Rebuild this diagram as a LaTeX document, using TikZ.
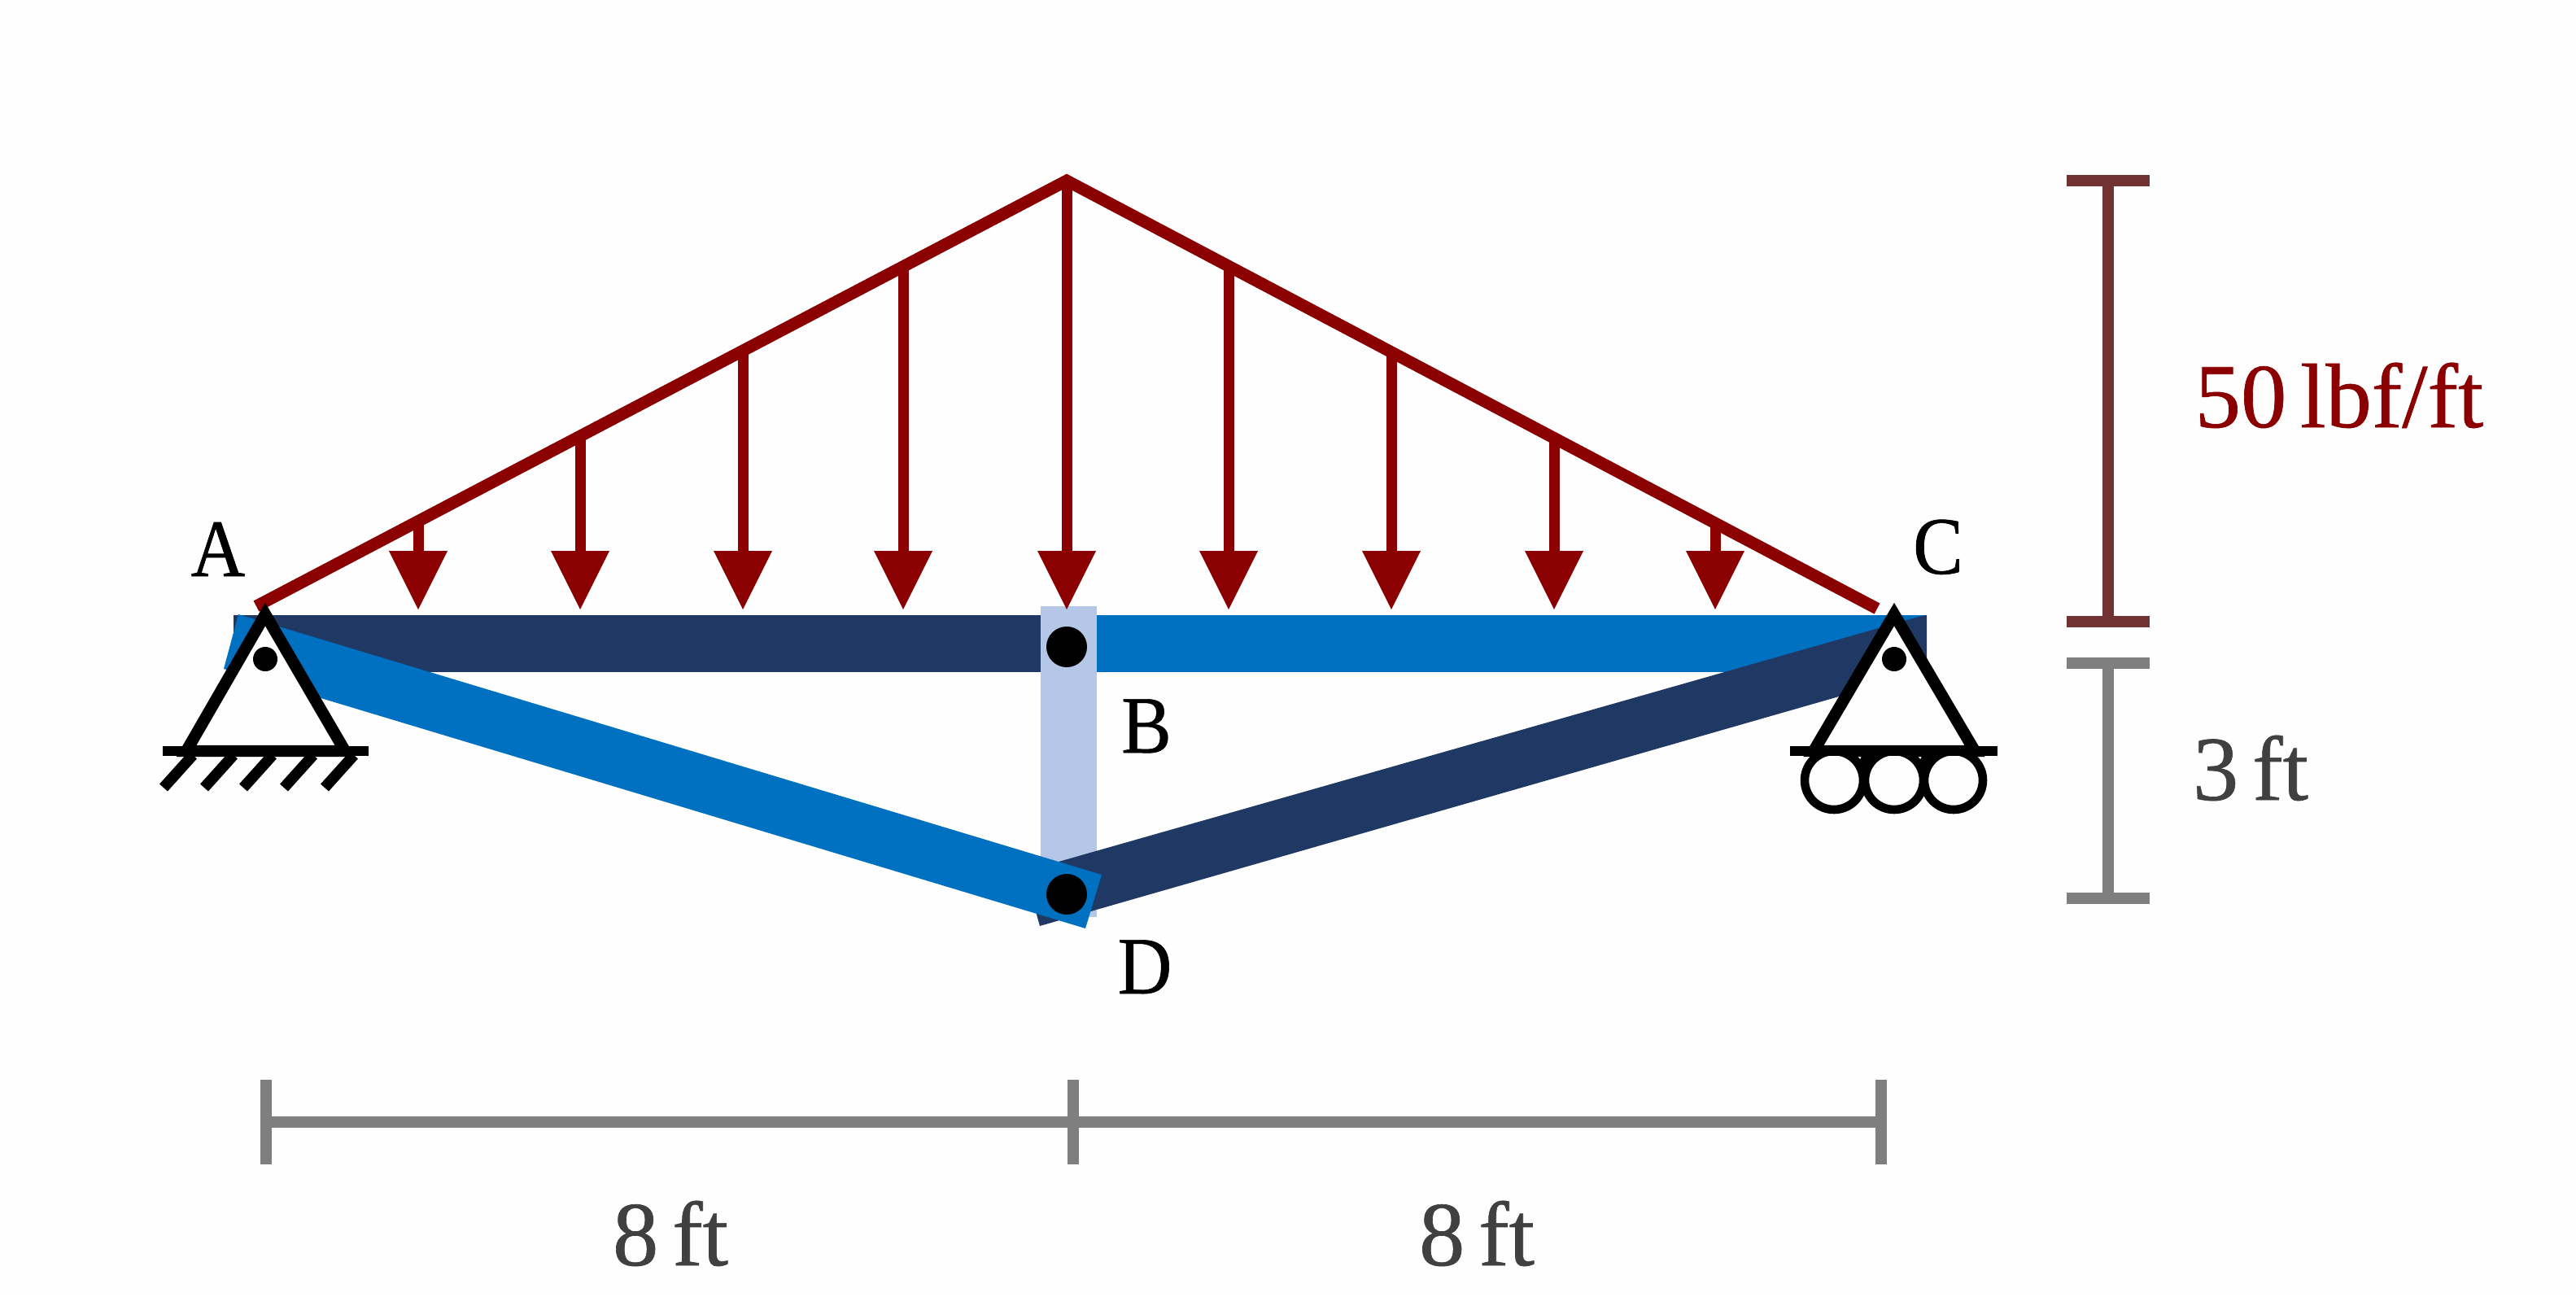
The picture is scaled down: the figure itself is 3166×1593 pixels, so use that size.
\documentclass[tikz,border=0pt]{standalone}
\usepackage{fontspec}
\setmainfont{Liberation Serif}[WordSpace=0.6,AutoFakeBold=0.6]
\newfontfamily\labfont{Liberation Serif}[FakeStretch=0.92,AutoFakeBold=0.6]
\definecolor{paper}{HTML}{FEFEFE}
\definecolor{navy}{HTML}{203864}
\definecolor{steel}{HTML}{0070C0}
\definecolor{pale}{HTML}{B4C7E7}
\definecolor{load}{HTML}{8B0000}
\definecolor{loaddim}{HTML}{703232}
\definecolor{dimgrey}{HTML}{7F7F7F}
\definecolor{dimtext}{HTML}{404040}
\tikzset{
  x=0.01cm,y=-0.01cm,
  pinline/.style={draw=black,line width=4.1pt,line join=miter,miter limit=10},
  groundline/.style={draw=black,line width=3.6pt},
  hatchline/.style={draw=black,line width=3.8pt},
  rollerwheel/.style={draw=black,fill=paper,line width=3pt},
  pindot/.style={circle,fill=black,inner sep=0pt,minimum size=#1},
  loadline/.style={draw=load,line width=4.2pt},
  loadhead/.style={fill=load,draw=none},
  dimbar/.style={draw=dimgrey,line width=4pt},
  loadbar/.style={draw=loaddim,line width=4pt},
  lab/.style={anchor=base,inner sep=0pt,font=\fontsize{28.5}{29}\labfont\bfseries},
  dimlab/.style={anchor=base,inner sep=0pt,text=dimtext,font=\fontsize{32}{32}\selectfont\bfseries},
}
\begin{document}
\begin{tikzpicture}
\fill[paper] (0,0) rectangle (3166,1593);
\useasboundingbox (0,0) rectangle (3166,1593);
% members
\fill[navy] (287,756) rectangle (1279,826);
\fill[steel] (1348,756) rectangle (2368,826);
\fill[pale] (1279,745) rectangle (1348,1127);
\fill[navy] (1278,1138) -- (1259,1071) -- (2358,758) -- (2368,756) -- (2368,825) -- cycle;
\fill[steel] (293,755) -- (1354,1075) -- (1334,1141) -- (275,822) -- cycle;
% joints
\coordinate (Apin) at (326,810);
\coordinate (Cpin) at (2328,810);
\node[pindot=50*0.01cm] (Bpin) at (1311,795) {};
\node[pindot=50*0.01cm] (Dpin) at (1311,1099) {};
% distributed load
\coordinate (la) at (315,745);
\coordinate (lm) at (1311,222);
\coordinate (lc) at (2307,748);
\draw[loadline] (la) -- (lm) -- (lc);
\foreach \xx/\yy in {514/640,713/536,913/432,1110/327,1311/222,1510/327,1710/432,1910/537,2108/642}{
  \draw[draw=load,line width=3.7pt] (\xx,\yy) -- (\xx,680);
  \fill[loadhead] (\xx-36,677) -- (\xx+36,677) -- (\xx,749) -- cycle;
}
% pin support A
\draw[pinline,fill=paper] (229,923) -- (326,755) -- (424,923) -- cycle;
\node[pindot=30*0.01cm] (Adot) at (Apin) {};
\draw[groundline] (200,923) -- (453,923);
\foreach \xx in {237,287,335,385,435}{
  \draw[hatchline] (\xx,928) -- (\xx-36,968);
}
% roller support C
\draw[pinline,fill=paper] (2229,923) -- (2328,755) -- (2427,923) -- cycle;
\node[pindot=30*0.01cm] (Cdot) at (Cpin) {};
\draw[hatchline] (2296,928) -- (2288,945);
\draw[hatchline] (2370,928) -- (2362,945);
\draw[rollerwheel] (2254,959) circle (36);
\draw[rollerwheel] (2328,959) circle (36);
\draw[rollerwheel] (2401,959) circle (36);
\draw[groundline] (2200,923) -- (2455,923);
% dimensions
\coordinate (d1a) at (327,1379);
\coordinate (d1b) at (1319,1379);
\coordinate (d1c) at (2312,1379);
\draw[dimbar] (d1a) -- (d1c);
\foreach \c in {d1a,d1b,d1c}{
  \draw[dimbar] ([yshift=-0.52cm]\c) -- ([yshift=0.52cm]\c);
}
\draw[loadbar] (2591,222) -- (2591,764);
\draw[loadbar] (2540,222) -- (2642,222);
\draw[loadbar] (2540,764) -- (2642,764);
\draw[dimbar] (2591,815) -- (2591,1104);
\draw[dimbar] (2540,815) -- (2642,815);
\draw[dimbar] (2540,1104) -- (2642,1104);
% labels
\node[lab] (tA) at (268,708) {A};
\node[lab] (tB) at (1409,925) {B};
\node[lab] (tC) at (2382,705) {C};
\node[lab] (tD) at (1407,1221) {D};
\node[dimlab] (t8a) at (824,1555) {8 ft};
\node[dimlab] (t8b) at (1815,1555) {8 ft};
\node[dimlab] (t3) at (2766,983) {3 ft};
\node[dimlab,text=load] (t50) at (2875,525) {50 lbf/ft};
\end{tikzpicture}
\end{document}
